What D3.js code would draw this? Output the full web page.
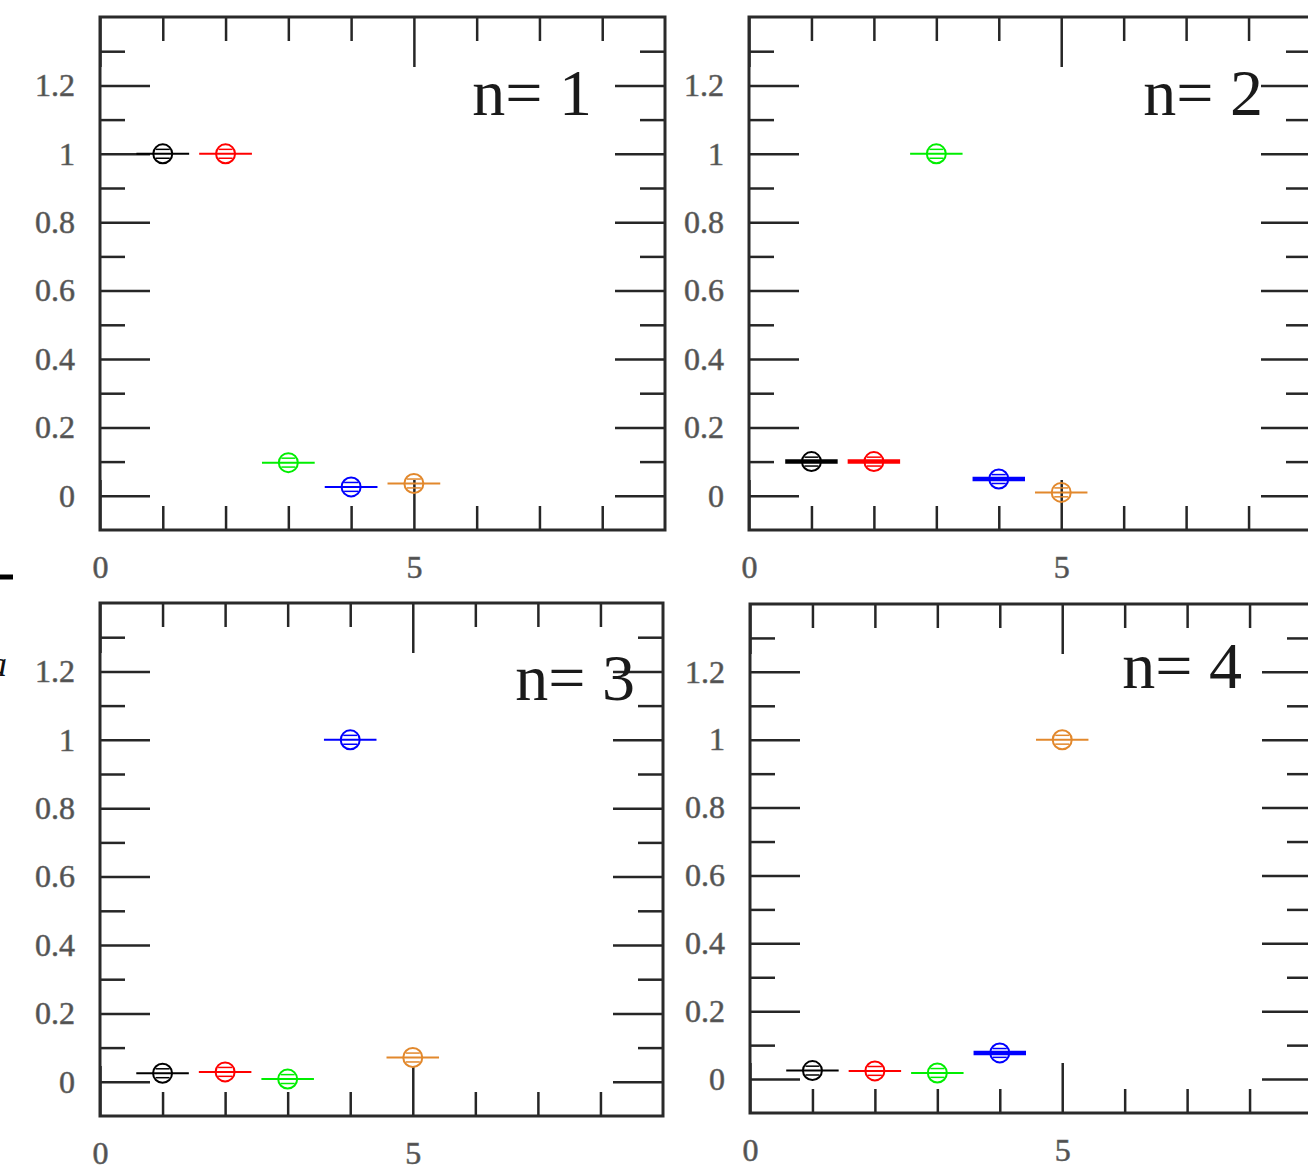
<!DOCTYPE html>
<html>
<head>
<meta charset="utf-8">
<script src="https://cdn.jsdelivr.net/npm/d3@7"></script>
<style>
  html, body { margin: 0; padding: 0; background: #fff; overflow: hidden; }
  svg { display: block; overflow: hidden; }
  .frame { fill: none; stroke: #2a2a2a; stroke-width: 3; }
  .tick line { stroke: #262626; stroke-width: 2.5; }
  .tick text { font-family: "Liberation Serif", "Times New Roman", serif; font-size: 32px; fill: #505050; stroke: #6a6a6a; stroke-width: 0.6; }
  .title { font-family: "Liberation Serif", "Times New Roman", serif; font-size: 66px; fill: #1a1a1a; }
</style>
</head>
<body>
<svg id="chart" width="1308" height="1170"></svg>
<script>
// Level index along the horizontal axis (one point per state)
const levels = [1, 2, 3, 4, 5];

// Overlap of each state with the n-th reference state
const overlapN1 = [1.0, 1.0, 0.097, 0.026, 0.036];
const overlapN2 = [0.100, 0.100, 1.0, 0.049, 0.010];
const overlapN3 = [0.025, 0.029, 0.008, 1.0, 0.071];
const overlapN4 = [0.025, 0.024, 0.018, 0.077, 1.0];

// Uncertainties (horizontal half-width in level units, vertical in overlap units)
const xErr = 0.42;
const yErr = 0.013;

const panelTitles = ["n= 1", "n= 2", "n= 3", "n= 4"];
const seriesColors = ["#000000", "#ff0000", "#00ee00", "#0000ff", "#e2882c"];

// Axis ticks
const xMajorTicks = [0, 5];
const xMinorTicks = [1, 2, 3, 4, 6, 7, 8];
const yMajorTicks = [0, 0.2, 0.4, 0.6, 0.8, 1.0, 1.2];
const yMinorTicks = [0.1, 0.3, 0.5, 0.7, 0.9, 1.1, 1.3];
const xTickLabels = ["0", "5"];
const yTickLabels = ["0", "0.2", "0.4", "0.6", "0.8", "1", "1.2"];

const panelValues = [overlapN1, overlapN2, overlapN3, overlapN4];

// Panel placement on the page
const panelLayout = [
  { left: 100, top: 17,  width: 565, height: 513, titleX: 592,  titleY: 115 },
  { left: 749, top: 17,  width: 562, height: 513, titleX: 1263, titleY: 115 },
  { left: 100, top: 603, width: 563, height: 513, titleX: 635,  titleY: 700 },
  { left: 750, top: 604, width: 562, height: 509, titleX: 1242, titleY: 688 }
];
// Error bars drawn with a heavier stroke: [panel, series]
const heavyBars = [[1, 0], [1, 1], [1, 3], [3, 3]];

const svg = d3.select("#chart");

// stray marks along the left margin
svg.append("line").attr("x1", 0).attr("x2", 13).attr("y1", 577).attr("y2", 577)
  .attr("stroke", "#000").attr("stroke-width", 5);
svg.append("text").attr("x", -11).attr("y", 676)
  .attr("font-family", "Liberation Serif, serif").attr("font-style", "italic")
  .attr("font-size", 36).attr("fill", "#111").text("a");

panelLayout.forEach((p, pi) => {
  const g = svg.append("g").attr("transform", `translate(${p.left},${p.top})`);
  const x = d3.scaleLinear().domain([0, 9]).range([0, p.width]);
  const y = d3.scaleLinear().domain([-0.1, 1.4]).range([p.height, 0]);

  const fmtX = v => xTickLabels[xMajorTicks.indexOf(v)];
  const fmtY = v => yTickLabels[yMajorTicks.findIndex(t => Math.abs(t - v) < 1e-9)];

  const addAxis = (axis, transform) => {
    const a = g.append("g").attr("transform", transform).call(axis);
    a.select(".domain").remove();
    return a;
  };

  // bottom
  addAxis(d3.axisBottom(x).tickValues(xMinorTicks).tickSize(-24).tickFormat(""), `translate(0,${p.height})`);
  addAxis(d3.axisBottom(x).tickValues(xMajorTicks).tickSize(-50).tickPadding(25).tickFormat(fmtX), `translate(0,${p.height})`);
  // top
  addAxis(d3.axisTop(x).tickValues(xMinorTicks).tickSize(-24).tickFormat(""), "translate(0,0)");
  addAxis(d3.axisTop(x).tickValues(xMajorTicks).tickSize(-50).tickFormat(""), "translate(0,0)");
  // left
  addAxis(d3.axisLeft(y).tickValues(yMinorTicks).tickSize(-25).tickFormat(""), "translate(0,0)");
  addAxis(d3.axisLeft(y).tickValues(yMajorTicks).tickSize(-50).tickPadding(25).tickFormat(fmtY), "translate(0,0)");
  // right
  addAxis(d3.axisRight(y).tickValues(yMinorTicks).tickSize(-25).tickFormat(""), `translate(${p.width},0)`);
  addAxis(d3.axisRight(y).tickValues(yMajorTicks).tickSize(-50).tickFormat(""), `translate(${p.width},0)`);

  g.append("rect").attr("class", "frame")
    .attr("x", 0).attr("y", 0).attr("width", p.width).attr("height", p.height);

  svg.append("text").attr("class", "title")
    .attr("x", p.titleX).attr("y", p.titleY).attr("text-anchor", "end")
    .text(panelTitles[pi]);

  const pts = levels.map((lv, i) => ({ lv, v: panelValues[pi][i], c: seriesColors[i],
    heavy: heavyBars.some(h => h[0] === pi && h[1] === i) }));

  const mk = g.append("g").selectAll("g").data(pts).join("g")
    .attr("stroke", d => d.c).attr("fill", "none");

  mk.append("line")
    .attr("x1", d => x(d.lv - xErr)).attr("x2", d => x(d.lv + xErr))
    .attr("y1", d => y(d.v)).attr("y2", d => y(d.v))
    .attr("stroke-width", d => d.heavy ? 4.5 : 2);
  // vertical error caps
  [-1, 1].forEach(s => {
    mk.append("line")
      .attr("x1", d => x(d.lv) - 7).attr("x2", d => x(d.lv) + 7)
      .attr("y1", d => y(d.v + s * yErr)).attr("y2", d => y(d.v + s * yErr))
      .attr("stroke-width", 1.5);
  });
  mk.append("circle")
    .attr("cx", d => x(d.lv)).attr("cy", d => y(d.v))
    .attr("r", 9.5).attr("stroke-width", 2);
});
</script>
</body>
</html>
